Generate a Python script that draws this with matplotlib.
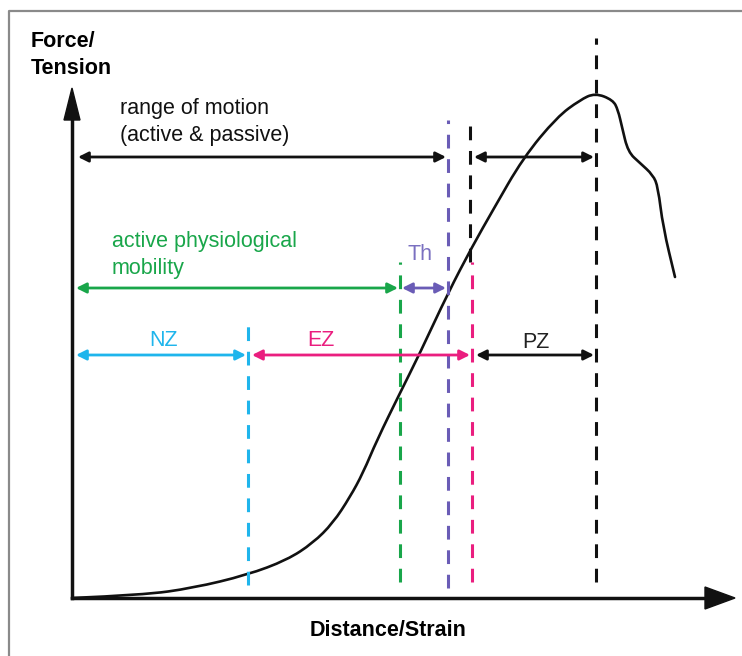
import matplotlib.pyplot as plt
from matplotlib.path import Path
from matplotlib.patches import PathPatch

plt.rcParams['font.family'] = ['Liberation Sans', 'DejaVu Sans']

# force/tension curve (x = distance/strain, y = force)
curve_x = [0, 71, 121, 175, 215, 241, 261, 278, 291, 305, 328, 348, 376,
           400, 421, 451, 485, 508, 523, 541, 546, 550, 556, 568, 581, 586,
           591, 603]
curve_y = [0, 3, 10, 23, 38, 55, 75, 101, 125, 158, 205, 245, 305,
           351, 388, 440, 481, 498, 505, 498, 488, 471, 446, 435, 423, 411,
           371, 321]

# zone boundaries (dashed lines): x, y bottom, y top, colour
bound_x = [176, 328, 376, 398, 400, 524]
bound_lo = [13, 16, 10, 336, 16, 16]
bound_hi = [280, 336, 478, 478, 336, 560]
bound_c = ['#1fb5ec', '#19a64a', '#6a5cb6', '#111111', '#ea1e7f', '#111111']

# double arrows: x from, x to, y, colour
arr_x0 = [6, 402, 4, 330, 4, 180, 404]
arr_x1 = [374, 522, 326, 374, 174, 398, 522]
arr_y = [441, 441, 310, 310, 243, 243, 243]
arr_c = ['#111111', '#111111', '#19a64a', '#6a5cb6', '#1fb5ec', '#ea1e7f', '#111111']

# labels
lab_txt = ['range of motion\n(active & passive)', 'active physiological\nmobility',
           'Th', 'NZ', 'EZ', 'PZ']
lab_x = [48, 40, 336, 77, 235, 450]
lab_y = [476, 343, 343, 258, 258, 256]
lab_c = ['#111111', '#19a64a', '#7a70c0', '#1fb5ec', '#ea1e7f', '#222222']

fig = plt.figure(figsize=(7.42, 6.56), dpi=100)
ax = fig.add_axes([0, 0, 1, 1])
ax.set_xlim(-72, 670)
ax.set_ylim(-58, 598)
ax.axis('off')

# frame
ax.plot([-63, -63, 670], [-58, 587, 587], color='#8a8a8a', lw=1.6,
        solid_capstyle='butt')

# axes with arrow heads
ax.plot([0, 0], [0, 480], color='#111111', lw=2.5)
ax.plot([0, 635], [0, 0], color='#111111', lw=2.5)
ax.fill([-8, 8, 0], [478, 478, 510], color='#111111')
ax.fill([633, 633, 663], [-11, 11, 0], color='#111111')

ax.text(-41, 543, 'Force/\nTension', fontsize=15.5, fontweight='bold',
        va='center', ha='left', linespacing=1.4)
ax.text(316, -33, 'Distance/Strain', fontsize=15.5, fontweight='bold',
        va='center', ha='center')

# dashed boundaries
for x, lo, hi, c in zip(bound_x, bound_lo, bound_hi, bound_c):
    ax.plot([x, x], [lo, hi], color=c, lw=2.2, linestyle=(0, (4.5, 3.5)))

# curve, drawn as a smooth path through the read points
pts = list(zip(curve_x, curve_y))
verts = [pts[0]]
codes = [Path.MOVETO]
for i in range(1, len(pts) - 1):
    mid = ((pts[i][0] + pts[i + 1][0]) / 2, (pts[i][1] + pts[i + 1][1]) / 2)
    verts += [pts[i], mid]
    codes += [Path.CURVE3, Path.CURVE3]
verts.append(pts[-1])
codes.append(Path.LINETO)
ax.add_patch(PathPatch(Path(verts, codes), fill=False, edgecolor='#111111',
                       lw=1.9, capstyle='round'))

# arrows
for x0, x1, y, c in zip(arr_x0, arr_x1, arr_y, arr_c):
    ax.annotate('', xy=(x1, y), xytext=(x0, y),
                arrowprops=dict(arrowstyle='<|-|>', color=c, lw=2,
                                mutation_scale=15, shrinkA=0, shrinkB=0))

for t, x, y, c in zip(lab_txt, lab_x, lab_y, lab_c):
    ax.text(x, y, t, color=c, fontsize=15.5, va='center', ha='left',
            linespacing=1.35)

fig.savefig('out.png', dpi=100)
